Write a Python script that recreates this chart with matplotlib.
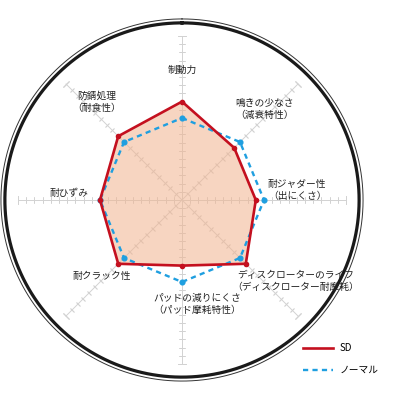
import numpy as np
import matplotlib
matplotlib.use("Agg")
import matplotlib.pyplot as plt

plt.rcParams['font.family'] = ['Noto Sans CJK JP', 'DejaVu Sans']

# %%
labels = ['制動力', '鳴きの少なさ\n（減衰特性）', '耐ジャダー性\n（出にくさ）',
          'ディスクローターのライフ\n（ディスクローター耐摩耗）',
          'パッドの減りにくさ\n（パッド摩耗特性）', '耐クラック性', '耐ひずみ',
          '防錆処理\n（耐食性）']
sd = [12, 9, 9, 11, 8, 11, 10, 11]
normal = [10, 10, 10, 10, 10, 10, 10, 10]
r_max = 20

# label placement (pixel offsets from the centre) and alignment
label_off = [(0, 130), (53, 91), (86, 10), (114, -81), (-29, -104),
             (-80, -76), (-113, 7), (-85, 98)]
label_ha = ['center', 'left', 'left', 'center', 'left', 'center', 'center', 'center']

red = '#c4101f'
blue = '#1f9fe0'
gray = '#d2d2d2'

# %%
fig = plt.figure(figsize=(4, 4), dpi=100)
# centre at (182, 200) px, 8.2 px per unit
px = 8.2
rlim = 22.5
rad = rlim * px
ax = fig.add_axes([(182 - rad) / 400, (200 - rad) / 400, 2 * rad / 400, 2 * rad / 400],
                  projection='polar')
ax.set_theta_zero_location('N')
ax.set_theta_direction(-1)
ax.set_ylim(0, rlim)
ax.axis('off')

angles = np.arange(len(labels)) * 2 * np.pi / len(labels)

# spokes with tick marks
for a in angles:
    ax.plot([a, a], [0, r_max], color=gray, lw=0.7, zorder=1)
    ax.plot([a] * (r_max - 1), np.arange(1, r_max), ls='none', color=gray,
            marker=(2, 2, 90 - np.degrees(a)), ms=3.8, mew=0.6, zorder=1)
    ax.plot([a], [r_max], ls='none', color=gray,
            marker=(2, 2, 90 - np.degrees(a)), ms=6, mew=0.7, zorder=1)

# outer rings
t = np.linspace(0, 2 * np.pi, 400)
ax.plot(t, np.full_like(t, 21.6), color='#1a1a1a', lw=2.3, zorder=1)
ax.plot(t, np.full_like(t, 22.08), color='#333333', lw=0.7, zorder=1)

# series
a_closed = np.append(angles, angles[0])
sd_closed = sd + sd[:1]
nm_closed = normal + normal[:1]
ax.fill(a_closed, sd_closed, color='#f2b48f', alpha=0.55, lw=0, zorder=2)
ax.plot(a_closed, nm_closed, color=blue, lw=1.7, ls=(0, (2.2, 1.8)), zorder=3,
        label='ノーマル')
ax.plot(angles, normal, ls='none', marker='o', ms=3.4, color=blue, zorder=3)
ax.plot(a_closed, sd_closed, color=red, lw=1.9, zorder=4, label='SD')
ax.plot(angles, sd, ls='none', marker='o', ms=3, color=red, zorder=4)

for lab, (dx, dy), ha in zip(labels, label_off, label_ha):
    ax.annotate(lab, xy=(0, 0), xytext=(dx, dy), textcoords='offset pixels',
                ha=ha, va='center', multialignment=ha, fontsize=7,
                linespacing=1.25, color='#222222', zorder=5)

handles, names = ax.get_legend_handles_labels()
fig.legend(handles[::-1], names[::-1], loc='upper left',
           bbox_to_anchor=(303 / 400, 1 - 343 / 400), frameon=False,
           fontsize=7, handlelength=3.1, handletextpad=0.7, labelspacing=1.25,
           borderpad=0, borderaxespad=0)

fig.savefig('out.png', dpi=100)
